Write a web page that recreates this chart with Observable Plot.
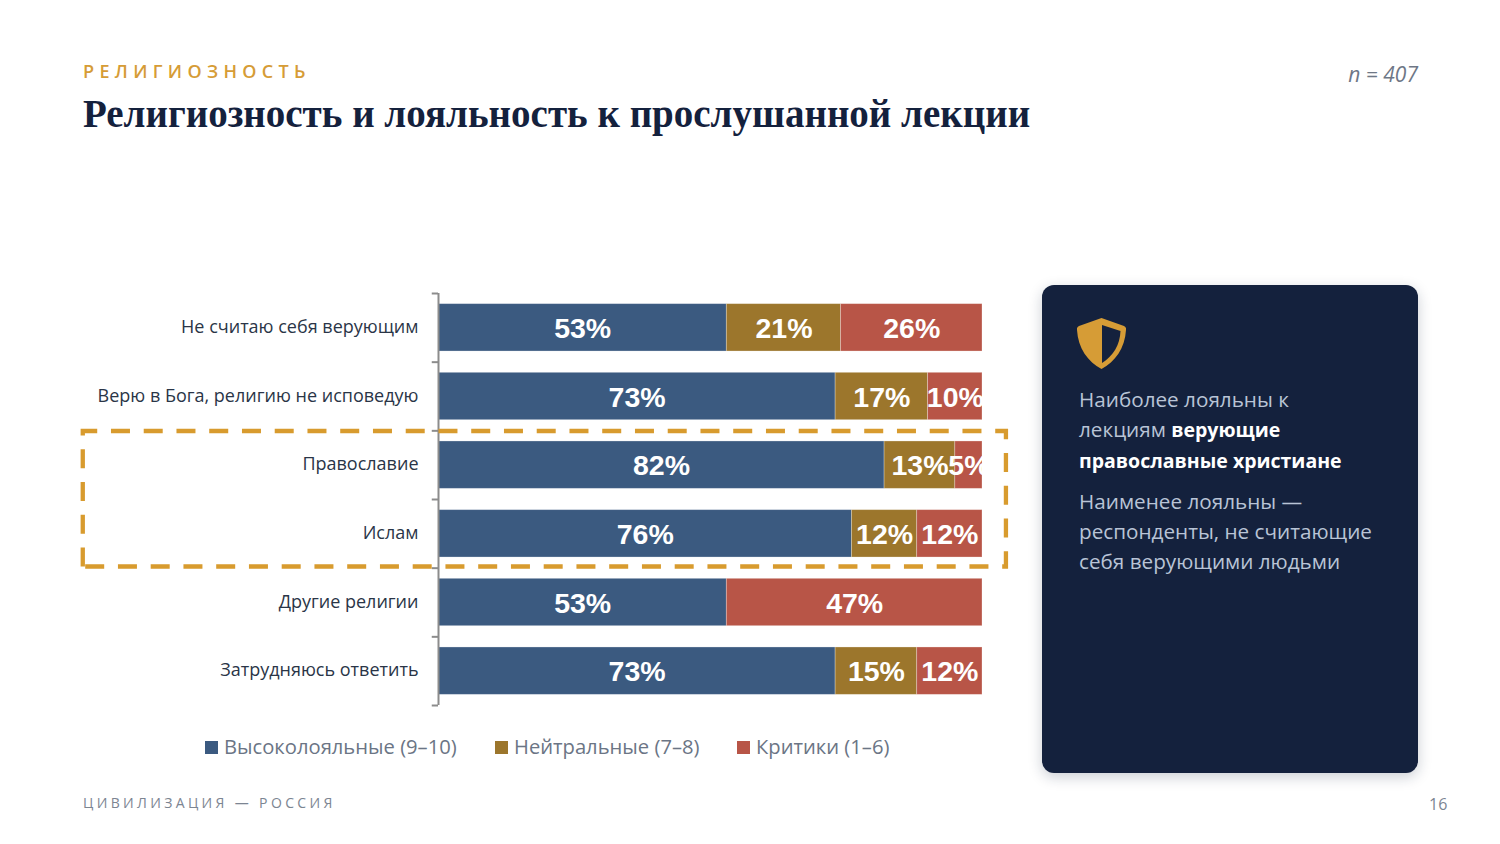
<!DOCTYPE html>
<html lang="ru">
<head>
<meta charset="utf-8">
<script src="https://cdn.jsdelivr.net/npm/d3@7"></script>
<script src="https://cdn.jsdelivr.net/npm/@observablehq/plot@0.6"></script>
<style>
html,body{margin:0;padding:0;background:#fff;width:1500px;height:844px;overflow:hidden;font-family:"Open Sans",sans-serif}
#stage{position:relative;width:1500px;height:844px}
#stage svg.plot{position:absolute;left:0;top:0;background:transparent}
.abs{position:absolute;white-space:nowrap}
#eyebrow{left:83px;top:60px;font:600 18px/22px "Open Sans",sans-serif;letter-spacing:5.35px;color:#D69C36}
#title{left:83px;top:91px;font:700 39px/46px "Liberation Serif",serif;color:#14213D}
#n{right:82px;top:60px;font:italic 400 21px/28px "Open Sans",sans-serif;color:#6E7786}
#panel{position:absolute;left:1042px;top:285px;width:376px;height:488px;border-radius:12px;background:#14213D;box-shadow:0 4px 14px rgba(20,33,61,.22)}
#shield{position:absolute;left:35px;top:33px;width:49px;height:51px}
.ptext{position:absolute;left:37px;font:400 20.7px/30px "Open Sans",sans-serif;color:#B9C4D6;white-space:nowrap}
.ptext b{color:#fff;font-weight:700;font-size:19.5px}
#legend{left:205px;top:732px;height:28px;font:400 20.2px/28px "Open Sans",sans-serif;color:#6B7585}
.li{position:absolute;top:0;white-space:nowrap}
.sw{position:absolute;left:0;top:9px;width:13px;height:13px}
.li span{position:absolute;left:19px;top:0}
#foot{left:83px;top:793px;font:400 14px/20px "Open Sans",sans-serif;letter-spacing:3.35px;color:#7C8592}
#page{left:1429px;top:794px;font:400 16px/20px "Open Sans",sans-serif;color:#7C8592}
</style>
</head>
<body>
<div id="stage">
  <div class="abs" id="eyebrow">РЕЛИГИОЗНОСТЬ</div>
  <div class="abs" id="title">Религиозность и лояльность к прослушанной лекции</div>
  <div class="abs" id="n">n = 407</div>
  <div id="panel">
    <svg id="shield" viewBox="0 0 49 51"><path fill="#D69C36" d="M24.5 0 L47 8 Q49.500 9 49 12 C48 30 38 44 24.500 51 C11 44 1 30 0 12 Q-.5 9 2 8 Z"/><path fill="#14213D" d="M25 7 L43.500 13 C43 27 36 38 25 45 Z"/></svg>
    <div class="ptext" style="top:99px">Наиболее лояльны к<br>лекциям <b>верующие</b><br><b>православные христиане</b></div>
    <div class="ptext" style="top:201px">Наименее лояльны —<br>респонденты, не считающие<br>себя верующими людьми</div>
  </div>
  <div class="abs" id="legend"></div>
  <div class="abs" id="foot">ЦИВИЛИЗАЦИЯ — РОССИЯ</div>
  <div class="abs" id="page">16</div>
</div>
<script>
const categories = ["Не считаю себя верующим","Верю в Бога, религию не исповедую","Православие","Ислам","Другие религии","Затрудняюсь ответить"];
const seriesNames = ["Высоколояльные (9–10)","Нейтральные (7–8)","Критики (1–6)"];
const seriesColors = ["#3B5A80","#9C762C","#B85547"];
const high = [53,73,82,76,53,73];
const neutral = [21,17,13,12,0,15];
const critics = [26,10,5,12,47,12];
const legendX = [0,290,532];

const table = [];
[high,neutral,critics].forEach((vals,s)=>vals.forEach((v,i)=>{
  if(v>0) table.push({category:categories[i],series:seriesNames[s],value:v});
}));

const top0=293,bottom0=705,left0=438,right0=982;
const step=(bottom0-top0)/categories.length;
const gold="#D89B2E";

const highlight=(index,{x,y})=>{
  const p=document.createElementNS("http://www.w3.org/2000/svg","path");
  const bw=y.bandwidth?y.bandwidth():47;
  const y1=y(categories[2])-10, y2=y(categories[3])+bw+9.5;
  const x1=x(-65.3), x2=x(104.4);
  p.setAttribute("d",`M${x1},${y2}V${y1}H${x2}V${y2}H${x1}Z`);
  p.setAttribute("fill","none");p.setAttribute("stroke",gold);p.setAttribute("stroke-width",4.3);
  p.setAttribute("stroke-dasharray","19 13.75");
  return p;
};

const chart=Plot.plot({
  width:1500,height:844,
  marginLeft:left0,marginRight:1500-right0,marginTop:top0,marginBottom:844-bottom0,
  style:{background:"transparent",fontFamily:"'Open Sans',sans-serif"},
  x:{domain:[0,100],axis:null},
  y:{domain:categories,paddingInner:0.31,paddingOuter:0.155,round:false,label:null},
  color:{domain:seriesNames,range:seriesColors},
  marks:[
    Plot.barX(table,Plot.stackX({x:"value",y:"category",fill:"series",stroke:"#fff",strokeOpacity:0.35,strokeWidth:0.8})),
    Plot.ruleX([0],{stroke:"#8C8C8C",strokeWidth:2}),
    Plot.ruleY(categories,{x1:-1.15,x2:0,stroke:"#8C8C8C",strokeWidth:2,dy:-step/2}),
    Plot.ruleY(categories.slice(-1),{x1:-1.15,x2:0,stroke:"#8C8C8C",strokeWidth:2,dy:step/2}),
    Plot.axisY({tickSize:0,tickPadding:20,fontSize:18,color:"#2A3547",label:null,dy:-0.5}),
    Plot.text(table,Plot.stackX({x:"value",y:"category",z:"series",text:d=>d.value+"%",fill:"#fff",
      fontFamily:"'Liberation Sans',Arial,sans-serif",fontWeight:700,fontSize:28.5,clip:"frame",dy:1})),
    highlight
  ]
});
document.getElementById("stage").appendChild(chart);

const lg=document.getElementById("legend");
seriesNames.forEach((name,i)=>{
  const d=document.createElement("div");d.className="li";d.style.left=legendX[i]+"px";
  const s=document.createElement("div");s.className="sw";s.style.background=seriesColors[i];
  const t=document.createElement("span");t.textContent=name;
  d.append(s,t);lg.append(d);
});
</script>
</body>
</html>
